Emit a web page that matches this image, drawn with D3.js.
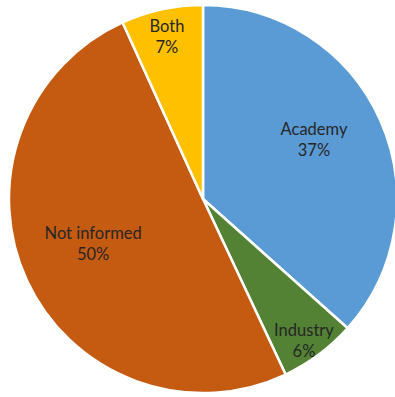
<!DOCTYPE html>
<html>
<head>
<meta charset="utf-8">
<script src="https://cdn.jsdelivr.net/npm/d3@7/dist/d3.min.js"></script>
<style>
  html, body { margin: 0; padding: 0; background: #fff; }
  svg { display: block; }
</style>
</head>
<body>
<svg id="chart" width="395" height="397"></svg>
<script>
// Data
const categories = ["Academy", "Industry", "Not informed", "Both"];
const values = [36.6, 6.4, 50.2, 6.8];
const percentLabels = ["37%", "6%", "50%", "7%"];

// Styles
const colors = ["#5B9BD5", "#548235", "#C55A11", "#FFC000"];
const labelRadiusFrac = [0.648, 0.898, 0.612, 0.856];
const labelAngleShiftDeg = [-3.9, 1.3, 2.6, -0.3];

const W = 395, H = 397;
const cx = 203, cy = 199, R = 194;

const svg = d3.select("#chart");
const g = svg.append("g").attr("transform", `translate(${cx},${cy})`);

const pie = d3.pie().sort(null).value(d => d.v);
const data = categories.map((c, i) => ({ c, v: values[i], p: percentLabels[i], i }));
const arcs = pie(data);

const arc = d3.arc().innerRadius(0).outerRadius(R);

g.selectAll("path.slice")
  .data(arcs)
  .join("path")
  .attr("class", "slice")
  .attr("d", arc)
  .attr("fill", d => colors[d.data.i])
  .attr("stroke", "#fff")
  .attr("stroke-width", 2.5)
  .attr("stroke-linejoin", "round");

const labels = g.selectAll("g.lab")
  .data(arcs)
  .join("g")
  .attr("class", "lab")
  .attr("transform", d => {
    const r = R * labelRadiusFrac[d.data.i];
    const a = (d.startAngle + d.endAngle) / 2 + labelAngleShiftDeg[d.data.i] * Math.PI / 180;
    return `translate(${r * Math.sin(a)},${-r * Math.cos(a)})`;
  });

const textStyle = sel => sel
  .attr("text-anchor", "middle")
  .attr("font-family", "Lato, 'Open Sans', sans-serif")
  .attr("font-size", 16.5)
  .attr("fill", "#262626");

labels.append("text").call(textStyle).attr("y", -5).text(d => d.data.c);
labels.append("text").call(textStyle).attr("y", 16.5).text(d => d.data.p);
</script>
</body>
</html>
